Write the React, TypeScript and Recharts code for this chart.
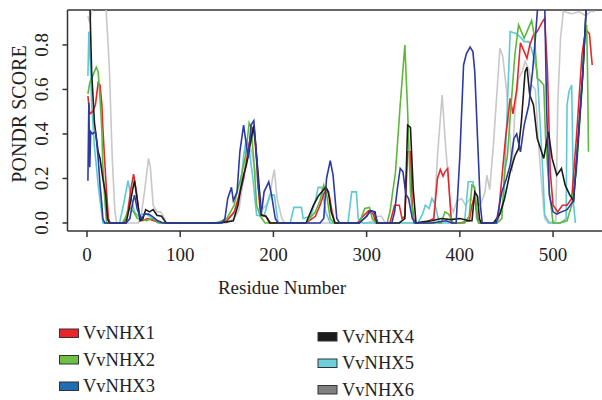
import { LineChart, Line, XAxis, YAxis, Legend, ReferenceLine } from "recharts";

// residue number, PONDR score
const vvnhx1: [number, number][] = [
  [1, 0.57], [3, 0.49], [6, 0.5], [9, 0.53], [12, 0.63], [14, 0.62], [16, 0.53], [17, 0.43], [19, 0.28], [21, 0.14], [23, 0.02], [25, 0],
  [40, 0], [44, 0.06], [47, 0.15], [50, 0.22], [53, 0.14], [56, 0.04], [59, 0.01], [65, 0.02], [72, 0.01], [80, 0],
  [140, 0], [150, 0.01], [158, 0.05], [163, 0.12], [168, 0.2], [172, 0.3], [175, 0.38], [178, 0.43], [180, 0.38], [182, 0.28], [184, 0.15], [186, 0.04], [192, 0.03], [197, 0],
  [235, 0], [245, 0.03], [250, 0.08], [254, 0.13], [257, 0.155], [260, 0.12], [263, 0.05], [266, 0],
  [290, 0], [296, 0.03], [302, 0.055], [307, 0.04], [310, 0],
  [325, 0], [330, 0.08], [335, 0.08], [338, 0.02], [341, 0.03], [344, 0.32], [347, 0.32], [349, 0.08], [351, 0],
  [362, 0], [372, 0.02], [376, 0.2], [379, 0.24], [382, 0.21], [384, 0.23], [387, 0.245], [389, 0.12], [391, 0],
  [400, 0], [410, 0.01], [413, 0.08], [416, 0.12], [419, 0.02], [421, 0],
  [437, 0], [441, 0.02], [445, 0.2], [449, 0.38], [454, 0.56], [457, 0.49], [461, 0.6], [465, 0.81], [468, 0.78], [472, 0.74], [475, 0.8], [479, 0.845], [483, 0.86], [488, 0.9], [491, 0.92], [494, 0.68], [497, 0.23], [500, 0.08], [505, 0.05], [510, 0.08], [515, 0.08], [520, 0.11], [525, 0.38], [531, 0.755], [535, 0.87], [539, 0.85], [542, 0.71],
];

const vvnhx2: [number, number][] = [
  [1, 0.58], [3, 0.63], [6, 0.66], [10, 0.7], [12, 0.68], [14, 0.56], [16, 0.41], [17, 0.26], [19, 0.11], [21, 0],
  [38, 0], [42, 0.03], [46, 0.07], [50, 0.05], [54, 0.02], [58, 0.02], [64, 0.01], [70, 0.02], [78, 0],
  [140, 0], [150, 0.02], [158, 0.08], [161, 0.14], [165, 0.2], [170, 0.3], [174, 0.45], [176, 0.43], [179, 0.28], [182, 0.08], [186, 0.03], [191, 0],
  [235, 0], [245, 0.05], [250, 0.1], [254, 0.17], [257, 0.13], [261, 0.02], [265, 0],
  [292, 0], [298, 0.065], [303, 0.07], [306, 0.02], [310, 0],
  [322, 0], [325, 0.05], [331, 0.23], [336, 0.53], [341, 0.8], [344, 0.5], [347, 0.14], [350, 0.02], [352, 0],
  [380, 0], [384, 0.05], [388, 0.04], [393, 0],
  [405, 0], [410, 0.03], [413, 0.17], [416, 0.16], [419, 0.02], [421, 0],
  [440, 0], [445, 0.02], [448, 0.23], [451, 0.3], [455, 0.53], [459, 0.755], [463, 0.89], [466, 0.86], [469, 0.83], [473, 0.87], [477, 0.91], [480, 0.84], [483, 0.65], [486, 0.64], [490, 0.62], [492, 0.38], [496, 0.14], [500, 0], [507, 0], [515, 0.01], [520, 0.08], [525, 0.23], [531, 0.6], [534, 0.83], [536, 0.89], [537, 0.68], [538, 0.32],
];

const vvnhx3: [number, number][] = [
  [1, 0.19], [2, 0.54], [3, 0.25], [4, 0.41], [6, 0.4], [9, 0.41], [10, 0.38], [12, 0.29], [14, 0.17], [16, 0.08], [17, 0.02], [19, 0],
  [42, 0], [46, 0.02], [49, 0.09], [51, 0.125], [54, 0.06], [58, 0.02], [62, 0.04], [66, 0.04], [70, 0.03], [76, 0.01], [82, 0],
  [145, 0], [148, 0.02], [151, 0.11], [155, 0.16], [157, 0.1], [161, 0.14], [164, 0.32], [168, 0.44], [171, 0.35], [173, 0.29], [176, 0.44], [179, 0.46], [181, 0.35], [184, 0.155], [187, 0.04], [190, 0.14], [195, 0.185], [198, 0.125], [202, 0.02], [205, 0],
  [250, 0], [254, 0.02], [257, 0.2], [261, 0.28], [264, 0.215], [268, 0.02], [271, 0],
  [292, 0], [300, 0.03], [304, 0.055], [308, 0.05], [312, 0],
  [327, 0], [330, 0.05], [333, 0.155], [336, 0.245], [339, 0.23], [342, 0.13], [345, 0.11], [349, 0.02], [352, 0],
  [370, 0], [385, 0.01], [392, 0],
  [396, 0], [400, 0.3], [404, 0.71], [407, 0.76], [411, 0.79], [414, 0.77], [416, 0.68], [419, 0.38], [422, 0.08], [424, 0],
  [439, 0], [445, 0.14], [450, 0.2], [454, 0.26], [458, 0.38], [461, 0.4], [465, 0.32], [469, 0.44], [474, 0.53], [478, 0.68], [481, 0.83], [484, 1.0], [491, 1.0], [493, 0.53], [496, 0.125], [500, 0.05], [504, 0.04], [509, 0.05], [515, 0.06], [522, 0.1], [527, 0.38], [532, 0.68], [536, 1.0], [542, 1.0],
];

const vvnhx4: [number, number][] = [
  [1, 1.0], [3, 1.0], [5, 0.68], [8, 0.45], [12, 0.32], [14, 0.29], [17, 0.2], [20, 0.13], [22, 0.02], [24, 0],
  [42, 0], [46, 0.08], [49, 0.15], [51, 0.19], [54, 0.1], [57, 0.01], [60, 0.02], [63, 0.06], [67, 0.05], [71, 0.06], [75, 0.035], [80, 0.03], [85, 0],
  [140, 0], [150, 0.005], [157, 0.01], [162, 0.08], [165, 0.155], [168, 0.215], [171, 0.26], [175, 0.35], [179, 0.44], [181, 0.35], [184, 0.2], [187, 0.035], [192, 0.03], [196, 0],
  [235, 0], [243, 0.08], [248, 0.12], [252, 0.14], [256, 0.16], [259, 0.14], [262, 0.05], [266, 0],
  [292, 0], [300, 0.03], [304, 0.055], [309, 0.05], [311, 0],
  [335, 0], [341, 0.02], [344, 0.44], [347, 0.43], [350, 0.15], [353, 0],
  [360, 0.005], [370, 0.01], [380, 0.02], [390, 0.015], [400, 0.02], [410, 0.01], [413, 0.01], [416, 0.14], [419, 0.12], [421, 0.02], [423, 0],
  [436, 0], [443, 0.04], [448, 0.11], [454, 0.23], [459, 0.3], [463, 0.335], [466, 0.455], [470, 0.68], [472, 0.7], [475, 0.575], [479, 0.53], [483, 0.38], [490, 0.29], [495, 0.41], [499, 0.29], [504, 0.215], [509, 0.245], [513, 0.17], [518, 0.125], [522, 0.1], [527, 0.38], [532, 0.68], [536, 1.0], [543, 1.0],
];

const vvnhx5: [number, number][] = [
  [1, 0.66], [2, 0.86], [4, 0.68], [5, 0.53], [7, 0.41], [8, 0.34], [10, 0.26], [12, 0.17], [14, 0.1], [16, 0.04], [17, 0],
  [35, 0], [40, 0.1], [44, 0.19], [47, 0.12], [51, 0.05], [55, 0.03], [59, 0.04], [64, 0.04], [70, 0.02], [76, 0],
  [135, 0], [150, 0.01], [157, 0.04], [161, 0.08], [165, 0.17], [168, 0.3], [171, 0.38], [174, 0.33], [178, 0.2], [182, 0.035], [190, 0.03], [196, 0.125], [201, 0.125], [205, 0],
  [218, 0], [222, 0.07], [230, 0.07], [232, 0.02], [240, 0.03], [245, 0.1], [248, 0.16], [252, 0.16], [256, 0.05], [261, 0],
  [280, 0], [284, 0.14], [289, 0.14], [291, 0.02], [296, 0],
  [355, 0], [360, 0.04], [363, 0.08], [367, 0.065], [370, 0.11], [373, 0.09], [378, 0],
  [405, 0], [409, 0.185], [414, 0.185], [416, 0.14], [418, 0.02], [420, 0],
  [440, 0], [447, 0.1], [451, 0.53], [454, 0.86], [461, 0.85], [466, 0.83], [469, 0.815], [474, 0.815], [477, 0.78], [483, 0.68], [486, 0.455], [489, 0.23], [491, 0.035], [496, 0], [508, 0], [514, 0.02], [515, 0.53], [517, 0.59], [520, 0.62], [522, 0.08], [524, 0],
];

const vvnhx6: [number, number][] = [
  [1, 0.93], [3, 0.9], [6, 0.98], [8, 1.0], [20, 1.0], [24, 0.7], [27, 0.3], [30, 0.05], [32, 0],
  [55, 0], [58, 0.03], [62, 0.15], [66, 0.29], [68, 0.25], [71, 0.08], [75, 0.05], [79, 0.05], [82, 0.03], [85, 0],
  [150, 0], [158, 0.02], [163, 0.06], [168, 0.2], [171, 0.3], [176, 0.33], [181, 0.22], [185, 0.14], [189, 0.065], [192, 0.08], [196, 0.11], [199, 0.2], [201, 0.24], [204, 0.11], [209, 0.02], [212, 0],
  [300, 0], [308, 0.01], [312, 0.03], [316, 0.03], [320, 0],
  [372, 0], [376, 0.3], [381, 0.575], [385, 0.33], [390, 0.08], [393, 0.05], [397, 0.1], [402, 0.11], [406, 0.08], [411, 0.11], [416, 0.09], [422, 0.08], [427, 0.14], [429, 0.215], [432, 0.15], [436, 0.35], [440, 0.6], [443, 0.785], [446, 0.75], [450, 0.6], [454, 0.38], [456, 0.23], [459, 0.5], [463, 0.65], [467, 0.68], [470, 0.725], [474, 0.69], [477, 0.62], [481, 0.6], [484, 0.38], [488, 0.16], [491, 0.02], [495, 0], [503, 0.01], [505, 0.53], [508, 0.83], [511, 0.95], [520, 0.94], [528, 0.95], [535, 0.93], [540, 0.95], [545, 0.95],
];

const xTicks = [0, 100, 200, 300, 400, 500];
const yTicks = [0, 0.2, 0.4, 0.6, 0.8];

const X_MIN = -20.9;
const X_MAX = 552.5;
const Y_MIN = -0.036;
const Y_MAX = 0.957;

const FONT = "'Liberation Serif', 'Times New Roman', serif";
const INK = "#222";

// drawing order: gray at the back, navy on top
const series = [
  { name: "VvNHX6", pts: vvnhx6, stroke: "#c8c8c8" },
  { name: "VvNHX5", pts: vvnhx5, stroke: "#5ccad6" },
  { name: "VvNHX1", pts: vvnhx1, stroke: "#e8262a" },
  { name: "VvNHX2", pts: vvnhx2, stroke: "#5db83a" },
  { name: "VvNHX4", pts: vvnhx4, stroke: "#1b1b1b" },
  { name: "VvNHX3", pts: vvnhx3, stroke: "#2b3aa5" },
];

const legendLeft = [
  { name: "VvNHX1", fill: "#e8262a" },
  { name: "VvNHX2", fill: "#6dbf45" },
  { name: "VvNHX3", fill: "#1f6db5" },
];
const legendRight = [
  { name: "VvNHX4", fill: "#1a1a1a" },
  { name: "VvNHX5", fill: "#6ccfd9" },
  { name: "VvNHX6", fill: "#808080" },
];

const toRows = (pts: [number, number][]) => pts.map(([r, s]) => ({ r, s }));

function YTick(props: any) {
  const { x, y, payload } = props;
  return (
    <text
      x={x}
      y={y}
      transform={`rotate(-90, ${x}, ${y})`}
      textAnchor="middle"
      fontFamily={FONT}
      fontSize={19}
      fill={INK}
    >
      {Number(payload.value).toFixed(1)}
    </text>
  );
}

function LegendBox() {
  const col = (items: typeof legendLeft, sx: number, tx: number, y0: number) =>
    items.map((it, i) => {
      const cy = y0 + i * 26.5;
      return (
        <g key={it.name}>
          <rect x={sx} y={cy - 4} width={19} height={8.5} fill={it.fill} stroke="#333" strokeWidth={1} />
          <text x={tx} y={cy + 6} fontFamily={FONT} fontSize={18.5} fill={INK}>
            {it.name}
          </text>
        </g>
      );
    });
  return (
    <svg width={602} height={100} style={{ display: "block" }}>
      {col(legendLeft, 59.5, 83, 33)}
      {col(legendRight, 318, 342, 36.5)}
    </svg>
  );
}

export default function App() {
  return (
    <div style={{ position: "absolute", left: 0, top: 0, background: "#fff" }}>
      <LineChart width={602} height={400} margin={{ top: 10, right: 0, bottom: 0, left: 0 }}>
        <XAxis
          type="number"
          dataKey="r"
          domain={[X_MIN, X_MAX]}
          ticks={xTicks}
          interval={0}
          height={169}
          tickSize={6}
          tickMargin={10.5}
          tick={{ fontSize: 19, fontFamily: FONT, fill: INK }}
          stroke="#333"
          strokeWidth={1.5}
          label={() => (
            <text x={282} y={293.5} textAnchor="middle" fontFamily={FONT} fontSize={19} fill={INK}>
              Residue Number
            </text>
          )}
        />
        <YAxis
          type="number"
          domain={[Y_MIN, Y_MAX]}
          allowDataOverflow
          ticks={yTicks}
          interval={0}
          width={67.5}
          tickSize={5}
          tickMargin={14.5}
          tick={<YTick />}
          stroke="#333"
          strokeWidth={1.5}
          label={() => (
            <text
              x={26}
              y={114}
              transform="rotate(-90, 26, 114)"
              textAnchor="middle"
              fontFamily={FONT}
              fontSize={20}
              fill={INK}
            >
              PONDR SCORE
            </text>
          )}
        />
        <ReferenceLine y={Y_MAX} stroke="#333" strokeWidth={1.5} />
        {series.map((s) => (
          <Line
            key={s.name}
            data={toRows(s.pts)}
            dataKey="s"
            name={s.name}
            type="linear"
            stroke={s.stroke}
            strokeWidth={1.6}
            dot={false}
            activeDot={false}
            isAnimationActive={false}
          />
        ))}
        <Legend
          layout="horizontal"
          verticalAlign="middle"
          align="center"
          wrapperStyle={{ left: 0, top: 300, width: 602, height: 100 }}
          content={() => <LegendBox />}
        />
      </LineChart>
    </div>
  );
}
